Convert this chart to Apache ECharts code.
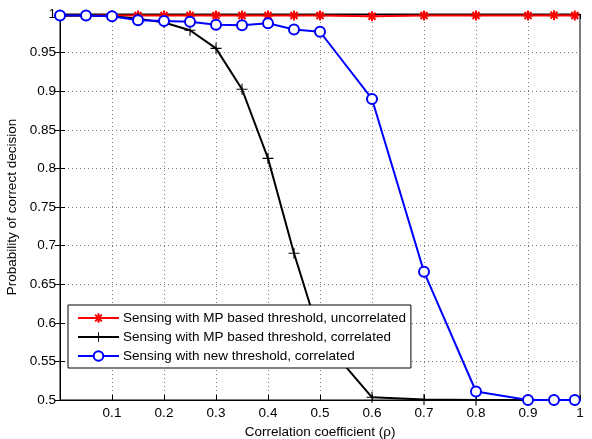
<!DOCTYPE html>
<html>
<head>
<meta charset="utf-8">
<script src="https://cdn.jsdelivr.net/npm/echarts@6/dist/echarts.min.js"></script>
<style>html,body{margin:0;padding:0;background:#fff;}#c{width:592px;height:439px;}</style>
</head>
<body>
<div id="c"></div>
<script>
var rho = [0, 0.05, 0.1, 0.15, 0.2, 0.25, 0.3, 0.35, 0.4, 0.45, 0.5, 0.6, 0.7, 0.8, 0.9, 0.95, 0.99];
var mpUncorrelated = [0.998, 0.998, 0.998, 0.998, 0.998, 0.998, 0.998, 0.998, 0.998, 0.998, 0.998, 0.997, 0.998, 0.998, 0.998, 0.9985, 0.998];
var mpCorrelated = [0.998, 0.998, 0.997, 0.994, 0.989, 0.979, 0.9555, 0.9025, 0.813, 0.69, 0.582, 0.5035, 0.5005, 0.5, 0.5, 0.5, 0.5];
var newCorrelated = [0.998, 0.998, 0.997, 0.992, 0.991, 0.990, 0.986, 0.9855, 0.988, 0.980, 0.977, 0.890, 0.666, 0.511, 0.5, 0.5, 0.5];
var seriesNames = ['Sensing with MP based threshold, uncorrelated', 'Sensing with MP based threshold, correlated', 'Sensing with new threshold, correlated'];
var xTicks = [0.1, 0.2, 0.3, 0.4, 0.5, 0.6, 0.7, 0.8, 0.9, 1];
var yTicks = [0.5, 0.55, 0.6, 0.65, 0.7, 0.75, 0.8, 0.85, 0.9, 0.95, 1];

function pairs(ys) { return rho.map(function (x, i) { return [x, ys[i]]; }); }

var asterisk = 'path://M0,4 H10 V6 H0 Z M4,0 H6 V10 H4 Z M0.8,2.2 L2.2,0.8 L9.2,7.8 L7.8,9.2 Z M7.8,0.8 L9.2,2.2 L2.2,9.2 L0.8,7.8 Z';
var plus = 'path://M4.5,0 H5.5 V4.5 H10 V5.5 H5.5 V10 H4.5 V5.5 H0 V4.5 H4.5 Z';

var font = 'Liberation Sans, Arial, sans-serif';
var fs = 13.5;
var chart = echarts.init(document.getElementById('c'), null, {renderer: 'canvas'});
var gridLine = {show: true, lineStyle: {color: '#777', type: [1, 3], width: 1}};
chart.setOption({
  animation: false,
  backgroundColor: '#fff',
  grid: {left: 60, right: 12, top: 14, bottom: 39, show: true, borderColor: '#000', borderWidth: 1,
    containLabel: false, outerBoundsMode: 'none'},
  xAxis: [{
    type: 'value', min: 0, max: 1, interval: 0.1,
    name: 'Correlation coefficient (\u03c1)', nameLocation: 'middle', nameGap: 19,
    nameTextStyle: {color: '#000', fontSize: fs, fontFamily: font},
    axisLine: {show: true, lineStyle: {color: '#000', width: 1}},
    axisTick: {show: true, inside: true, length: 5, lineStyle: {color: '#000'}},
    axisLabel: {color: '#000', fontSize: fs, fontFamily: font, margin: 6,
      formatter: function (v) { var r = Math.round(v * 10) / 10; return xTicks.indexOf(r) >= 0 ? String(r) : ''; }},
    splitLine: gridLine
  }, {
    type: 'value', min: 0, max: 1, interval: 0.1, position: 'top',
    axisLine: {show: true, lineStyle: {color: '#000'}},
    axisTick: {show: true, inside: true, length: 5, lineStyle: {color: '#000'}},
    axisLabel: {show: false}, splitLine: {show: false}
  }],
  yAxis: [{
    type: 'value', min: 0.5, max: 1, interval: 0.05,
    name: 'Probability of correct decision', nameLocation: 'middle', nameGap: 35,
    nameTextStyle: {color: '#000', fontSize: fs, fontFamily: font},
    axisLine: {show: true, lineStyle: {color: '#000', width: 1}},
    axisTick: {show: true, inside: true, length: 5, lineStyle: {color: '#000'}},
    axisLabel: {color: '#000', fontSize: fs, fontFamily: font, margin: 4,
      formatter: function (v) { var r = Math.round(v * 100) / 100; return yTicks.indexOf(r) >= 0 ? String(r) : ''; }},
    splitLine: gridLine
  }, {
    type: 'value', min: 0.5, max: 1, interval: 0.05, position: 'right',
    axisLine: {show: true, lineStyle: {color: '#000'}},
    axisTick: {show: true, inside: true, length: 5, lineStyle: {color: '#000'}},
    axisLabel: {show: false}, splitLine: {show: false}
  }],
  legend: {
    left: 68, top: 305, orient: 'vertical',
    backgroundColor: '#fff', borderColor: '#000', borderWidth: 1,
    padding: [6, 5, 5, 9], itemWidth: 41, itemHeight: 12, itemGap: 5,
    textStyle: {color: '#000', fontSize: fs, fontFamily: font, padding: [0, 0, 0, -1]},
    data: seriesNames
  },
  series: [{
    name: seriesNames[0], type: 'line', data: pairs(mpUncorrelated),
    symbol: asterisk, symbolSize: 10, showAllSymbol: true,
    lineStyle: {color: '#f00', width: 2}, itemStyle: {color: '#f00', borderWidth: 0},
    z: 2
  }, {
    name: seriesNames[1], type: 'line', data: pairs(mpCorrelated),
    symbol: plus, symbolSize: 11, showAllSymbol: true,
    lineStyle: {color: '#000', width: 2}, itemStyle: {color: '#000', borderWidth: 0},
    z: 3
  }, {
    name: seriesNames[2], type: 'line', data: pairs(newCorrelated),
    symbol: 'emptyCircle', symbolSize: 10, showAllSymbol: true,
    lineStyle: {color: '#00f', width: 2}, itemStyle: {color: '#00f', borderColor: '#00f', borderWidth: 2},
    z: 4
  }]
});
</script>
</body>
</html>
